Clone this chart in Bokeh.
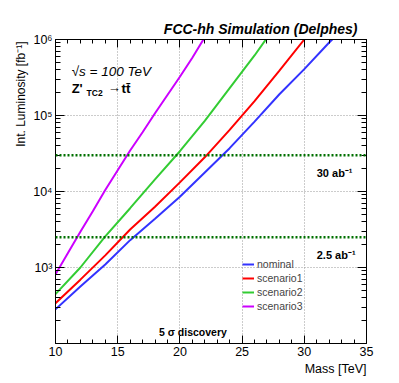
from bokeh.plotting import figure
from bokeh.models import (Range1d, FixedTicker, LinearAxis, LogAxis, Label, Span, Title,
                          Legend, LegendItem, CustomJSTickFormatter)
from bokeh.embed import file_html
from bokeh.resources import INLINE

# ---------------- data ----------------
mass_nominal = [10, 12, 14, 16, 18, 20, 22, 24, 26, 28, 30, 32, 32.5]
lumi_nominal = [282, 562, 1096, 2291, 4365, 8511, 17783, 37154, 83176, 190546, 407380, 912011, 1100000]

mass_scen1 = [10, 12, 14, 16, 18, 20, 22, 24, 26, 28, 30, 30.3]
lumi_scen1 = [339, 692, 1445, 3162, 6310, 13183, 28184, 64565, 154882, 389045, 1000000, 1150000]

mass_scen2 = [10, 12, 14, 16, 18, 20, 22, 24, 26, 27]
lumi_scen2 = [447, 1000, 2570, 6026, 14454, 33884, 85114, 229087, 616595, 1050000]

mass_scen3 = [10, 11, 12, 13, 14, 15, 16, 17, 18, 19, 20, 21, 22]
lumi_scen3 = [813, 1549, 2951, 5495, 10471, 19055, 34674, 60256, 107152, 186209, 323594, 575440, 1071519]

series_names = ["nominal", "scenario1", "scenario2", "scenario3"]
series_colors = ["#3333ff", "#ff0000", "#33cc33", "#cc00ff"]

target_lumi = [30000, 2500]
target_labels = ["30 ab\u207b\u00b9", "2.5 ab\u207b\u00b9"]

x_major = [10, 15, 20, 25, 30, 35]
x_minor = [11, 12, 13, 14, 16, 17, 18, 19, 21, 22, 23, 24, 26, 27, 28, 29, 31, 32, 33, 34]
y_major = [1e3, 1e4, 1e5, 1e6]
y_minor = [m * 10 ** e for e in (2, 3, 4, 5) for m in range(2, 10)]

FONT = "Liberation Sans"

# ---------------- figure ----------------
p = figure(width=399, height=383, x_range=Range1d(10, 35), y_range=Range1d(100, 1e6),
           y_axis_type="log", output_backend="svg", toolbar_location=None,
           min_border_left=55, min_border_right=33, min_border_top=39, min_border_bottom=40)
p.background_fill_color = "white"
p.border_fill_color = "white"
p.outline_line_color = "black"
p.outline_line_width = 1

# title
p.title.text = "FCC-hh Simulation (Delphes)"
p.title.align = "right"
p.title.text_font = FONT
p.title.text_font_size = "14px"
p.title.text_font_style = "bold italic"
p.title.text_color = "black"
p.title.offset = 9
p.title.standoff = 5

xt = FixedTicker(ticks=x_major, minor_ticks=x_minor)
yt = FixedTicker(ticks=y_major, minor_ticks=y_minor)

def style_axis(ax, major_len, minor_len):
    ax.major_tick_in = major_len
    ax.major_tick_out = 0
    ax.minor_tick_in = minor_len
    ax.minor_tick_out = 0
    ax.axis_line_color = "black"
    ax.major_tick_line_color = "black"
    ax.minor_tick_line_color = "black"

p.xaxis.ticker = xt
style_axis(p.xaxis[0], 8, 4)
p.xaxis.major_label_text_font = FONT
p.xaxis.major_label_text_font_size = "12.5px"
p.xaxis.major_label_text_color = "black"
p.xaxis.major_label_standoff = 3

p.yaxis.ticker = yt
style_axis(p.yaxis[0], 9, 5)
p.yaxis.formatter = CustomJSTickFormatter(code="""
const e = Math.round(Math.log10(tick));
const sup = {2:'\u00b2', 3:'\u00b3', 4:'\u2074', 5:'\u2075', 6:'\u2076'};
return '10' + sup[e];
""")
p.yaxis.major_label_text_font = FONT
p.yaxis.major_label_text_font_size = "12.5px"
p.yaxis.major_label_text_color = "black"
p.yaxis.major_label_standoff = 3

# axis titles, right/top aligned to the frame as in ROOT
p.add_layout(Title(text="Mass [TeV]", align="right", text_font=FONT, text_font_size="12.5px",
                   text_font_style="normal", text_color="black", standoff=3, offset=0), "below")
p.add_layout(Title(text="Int. Luminosity [fb\u207b\u00b9]", align="right", text_font=FONT,
                   text_font_size="12px", text_font_style="normal", text_color="black",
                   standoff=5, offset=2), "left")

top_ax = LinearAxis(ticker=xt, major_label_text_font_size="1px", major_label_text_color=None,
                    major_label_standoff=0)
style_axis(top_ax, 8, 4)
p.add_layout(top_ax, "above")
right_ax = LogAxis(ticker=yt, major_label_text_font_size="1px", major_label_text_color=None,
                   major_label_standoff=0)
style_axis(right_ax, 9, 5)
p.add_layout(right_ax, "right")

p.xgrid.ticker = FixedTicker(ticks=[15, 20, 25, 30])
p.ygrid.ticker = FixedTicker(ticks=[1e3, 1e4, 1e5])
for g in (p.xgrid[0], p.ygrid[0]):
    g.grid_line_color = "#999999"
    g.grid_line_dash = "1 2"
    g.grid_line_width = 1

# target lines
for lv in target_lumi:
    p.add_layout(Span(location=lv, dimension="width", line_color="#007000",
                      line_dash="2 2", line_width=2.5))

# curves
renderers = []
for xs, ys, c in zip([mass_nominal, mass_scen1, mass_scen2, mass_scen3],
                     [lumi_nominal, lumi_scen1, lumi_scen2, lumi_scen3], series_colors):
    renderers.append(p.line(xs, ys, line_color=c, line_width=2))

legend = Legend(items=[LegendItem(label=n, renderers=[r]) for n, r in zip(series_names, renderers)],
                location=(187, 30), label_text_font=FONT, label_text_font_size="10.5px",
                glyph_width=12, glyph_height=14, label_height=14, label_standoff=3,
                spacing=0, padding=0, margin=0, border_line_alpha=0, background_fill_alpha=0)
p.add_layout(legend)

def lab(x, y, text, size, style="normal", align="left"):
    p.add_layout(Label(x=x, y=y, text=text, text_font=FONT, text_font_size=size,
                       text_font_style=style, text_align=align, text_baseline="alphabetic",
                       text_color="black"))

# texts
lab(11.3, 374000, "\u221as = 100 TeV", "13.5px", "italic")
lab(11.3, 228600, "Z'", "13px", "bold")
lab(12.5, 196800, "TC2", "8.5px", "bold")
lab(14.2, 232000, "\u2192", "13px", "normal")
lab(15.3, 228600, "tt\u0304", "13.5px", "bold")
lab(31.0, 17740, target_labels[0], "11px", "bold")
lab(31.0, 1449, target_labels[1], "11px", "bold")
lab(18.32, 139.6, "5 \u03c3 discovery", "10.5px", "bold")

open("out.html", "w").write(file_html(p, INLINE))
